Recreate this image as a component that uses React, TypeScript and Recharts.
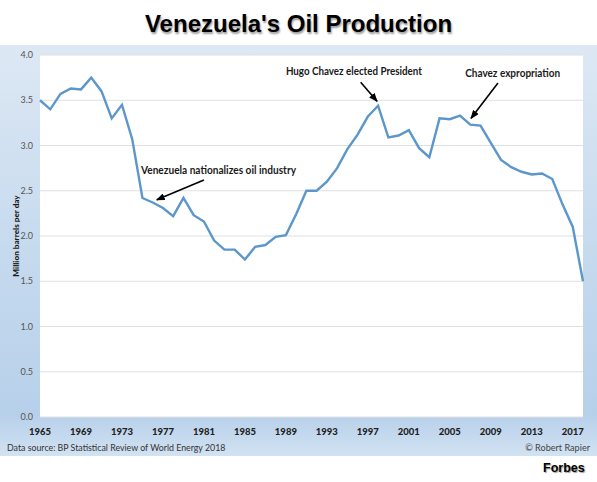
import React from "react";
import { LineChart, Line, XAxis, YAxis, CartesianGrid, ReferenceLine, ReferenceDot } from "recharts";

const years = [1965,1966,1967,1968,1969,1970,1971,1972,1973,1974,1975,1976,1977,1978,1979,1980,1981,1982,1983,1984,1985,1986,1987,1988,1989,1990,1991,1992,1993,1994,1995,1996,1997,1998,1999,2000,2001,2002,2003,2004,2005,2006,2007,2008,2009,2010,2011,2012,2013,2014,2015,2016,2017,2018];
const production = [3.50,3.40,3.57,3.63,3.62,3.75,3.60,3.30,3.45,3.07,2.42,2.37,2.31,2.22,2.42,2.23,2.16,1.95,1.85,1.85,1.74,1.88,1.90,1.99,2.01,2.24,2.50,2.50,2.60,2.75,2.96,3.12,3.32,3.44,3.09,3.11,3.17,2.97,2.87,3.30,3.29,3.33,3.23,3.22,3.03,2.84,2.76,2.71,2.68,2.69,2.63,2.35,2.10,1.50];
const xTicks = [1965,1969,1973,1977,1981,1985,1989,1993,1997,2001,2005,2009,2013,2017];
const yTicks = [0,0.5,1,1.5,2,2.5,3,3.5,4];
const notes = [
  { text: "Venezuela nationalizes oil industry", x: 1974.86, y: 2.71, w: 155, from: [1981.0, 2.62], to: [1976.4, 2.40] },
  { text: "Hugo Chavez elected President", x: 1989.0, y: 3.81, w: 136, from: [1996.3, 3.70], to: [1997.9, 3.49] },
  { text: "Chavez expropriation", x: 2006.5, y: 3.79, w: 95, from: [2009.7, 3.69], to: [2007.07, 3.30] },
];
const rows = years.map((year, i) => ({ year, production: production[i] }));
const body = "Lato, Carlito, sans-serif";

export default function App() {
  return (
    <div style={{ position: "absolute", left: 0, top: 0, width: 597, height: 482, background: "#fff", overflow: "hidden" }}>
      <div style={{ position: "absolute", left: 0, top: 45, width: 597, height: 411, background: "linear-gradient(180deg,#dde8f4 0%,#c6daee 50%,#b7d0ea 90%,#d2e2f2 100%)" }} />
      <div style={{ position: "absolute", left: 0, right: 0, top: 10, textAlign: "center", font: "bold 24px 'Liberation Sans', Arial, sans-serif", color: "#000", textShadow: "1px 2px 2px rgba(0,0,0,.4)" }}>Venezuela's Oil Production</div>
      <div style={{ position: "absolute", left: 0, top: 0 }}>
        <LineChart width={597} height={482} data={rows} margin={{ top: 55, right: 14, bottom: 0, left: 0 }}>
          <defs>
            <marker id="arrow" markerWidth="9" markerHeight="7" refX="8" refY="3.5" orient="auto" markerUnits="userSpaceOnUse">
              <path d="M0,0 L9,3.5 L0,7 Z" fill="#000" />
            </marker>
          </defs>
          <CartesianGrid vertical={false} fill="#fff" stroke="#e0e0e0" strokeWidth={1} />
          <XAxis dataKey="year" type="number" domain={[1965, 2018]} ticks={xTicks} interval={0} height={65} axisLine={false} tickLine={false} tickMargin={5}
            tick={{ fontSize: 9.5, fontWeight: 900, fill: "#222", fontFamily: body }} />
          <YAxis type="number" domain={[0, 4]} ticks={yTicks} width={40} axisLine={false} tickLine={false} tickMargin={1} tickFormatter={(v: number) => v.toFixed(1)}
            tick={{ fontSize: 9, fill: "#555", fontFamily: body }} />
          <Line dataKey="production" stroke="#5b97cb" strokeWidth={2.4} dot={false} strokeLinejoin="miter" isAnimationActive={false} />
          {notes.map((n) => (
            <ReferenceLine key={n.text + "a"} segment={[{ x: n.from[0], y: n.from[1] }, { x: n.to[0], y: n.to[1] }]} stroke="#000" strokeWidth={1.6} markerEnd="url(#arrow)" />
          ))}
          {notes.map((n) => (
            <ReferenceDot key={n.text} x={n.x} y={n.y} r={0} shape={(p: any) => (
              <text x={p.cx} y={p.cy} dominantBaseline="middle" fontFamily={body} fontWeight={700} fontSize={10.5} fill="#1a1a1a" textLength={n.w} lengthAdjust="spacingAndGlyphs">{n.text}</text>
            )} />
          ))}
        </LineChart>
      </div>
      <div style={{ position: "absolute", left: 16, top: 236, width: 0, height: 0 }}>
        <div style={{ position: "absolute", left: 0, top: 0, transform: "translate(-50%,-50%) rotate(-90deg)", whiteSpace: "nowrap", font: `900 8.2px ${body}`, color: "#1a1a1a" }}>Million barrels per day</div>
      </div>
      <div style={{ position: "absolute", left: 7, top: 442, font: `8.8px ${body}`, color: "#333" }}>Data source: BP Statistical Review of World Energy 2018</div>
      <div style={{ position: "absolute", right: 7, top: 442, font: `9.1px ${body}`, color: "#444" }}>© Robert Rapier</div>
      <div style={{ position: "absolute", left: 543, top: 461, font: "bold 12.5px 'Liberation Sans', Arial, sans-serif", color: "#000", textShadow: "1px 1px 1px rgba(0,0,0,.4)" }}>Forbes</div>
    </div>
  );
}
